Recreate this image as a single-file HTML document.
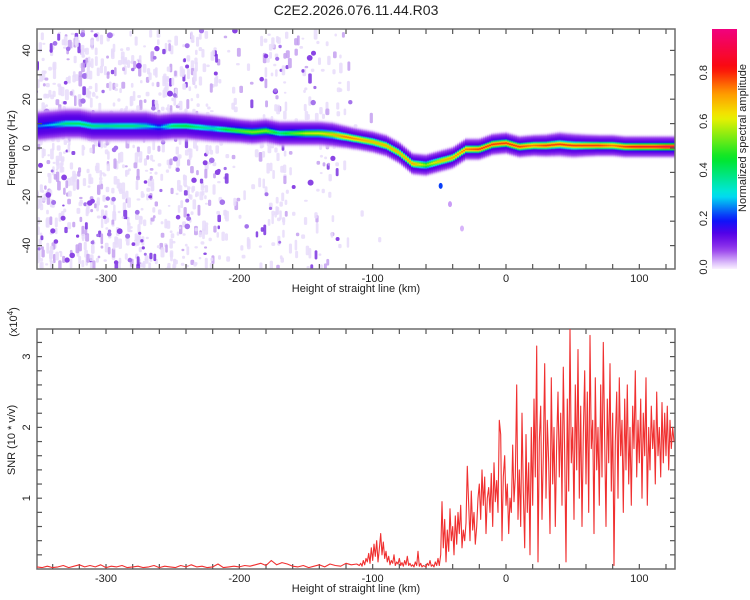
<!DOCTYPE html>
<html><head><meta charset="utf-8"><style>
body{margin:0;background:#fff;}
svg{display:block;font-family:"Liberation Sans",sans-serif;}
</style></head><body>
<svg id="chart" width="750" height="600" viewBox="0 0 750 600">
<defs id="defs"></defs>
<text x="356" y="15" font-size="14" text-anchor="middle" fill="#222">C2E2.2026.076.11.44.R03</text>
<g id="topPanel"></g>
<g id="cbar"></g>
<g id="bot"></g>
</svg>
<script>
// ---------- data ----------
const ridgeHeights=[-350,-340,-330,-320,-310,-300,-290,-280,-270,-260,-250,-240,-230,-220,-210,-200,-190,-180,-170,-160,-150,-140,-130,-120,-110,-100,-90,-80,-70,-60,-50,-40,-30,-20,-10,0,10,20,30,40,50,60,70,80,90,100,110,120,130];
const ridgeFreq=[9,9.5,10,10,9,9,9,9,9,8.5,9,9,8.5,8,7.5,7,6.5,7,6,6,6,6,5.5,4.5,3.5,2.5,1,-2,-6.5,-7,-5.5,-4,-0.5,-0.5,1.5,2,0.5,1,1,1.5,1,1,1,1,0.5,0.5,0.5,0.5,0.5];
const ridgeAmp=[0.25,0.3,0.4,0.42,0.4,0.38,0.4,0.4,0.35,0.25,0.42,0.45,0.4,0.35,0.45,0.5,0.55,0.55,0.4,0.5,0.6,0.62,0.68,0.75,0.72,0.68,0.7,0.68,0.72,0.55,0.68,0.72,0.75,0.8,0.8,0.8,0.8,0.75,0.8,0.8,0.8,0.8,0.8,0.75,0.8,0.85,0.85,0.9,0.9];
const ridgeHalo=[5.5,5.5,5.5,5.5,5.5,5.5,5.5,5.5,5.5,5,5,5,5,5,4.8,4.5,4.5,4.5,4.5,4.5,4.5,4.5,4.5,4.2,4,4,4,4,4,4,4,4,4,4,4,4,4,4,4.2,4.5,4.5,4.2,4,4,4,4,4,4,4];
const spotHeights=[-49,-42,-33];
const spotFreqs=[-15.5,-23,-33];
const spotAmps=[0.22,0.04,0.03];
const noiseHeights=[-350,-340,-330,-320,-310,-300,-290,-280,-270,-260,-250,-240,-230,-220,-210,-200,-190,-180,-170,-160,-150,-140,-130,-120,-110,-100];
const noiseDensity=[0.9,0.9,0.7,0.8,0.8,0.7,0.8,0.8,0.7,0.6,0.7,0.8,0.7,0.5,0.2,0.15,0.15,0.5,0.6,0.15,0.3,0.35,0.3,0.1,0.05,0.03];
const xTickLabels=[-300,-200,-100,0,100];
const freqTickLabels=[40,20,0,-20,-40];
const cbarTickLabels=["0.0","0.2","0.4","0.6","0.8"];
const snrTickLabels=[1,2,3];
const snrLeftStart=-352, snrLeftStep=4;
const snrLeft=[.03,.02,.04,.02,.03,.05,.02,.04,.06,.03,.05,.03,.06,.02,.04,.03,.05,.02,.03,.04,.02,.03,.05,.02,.04,.03,.02,.05,.03,.06,.03,.04,.02,.03,.07,.02,.03,.04,.03,.05,.04,.06,.08,.05,.12,.06,.09,.07,.04,.03,.05,.02,.04,.06,.03,.07,.05,.04,.08,.06,.07];
const snrRightStart=-110, snrRightStep=1;
const snrRight=[.05,.08,.04,.12,.06,.15,.10,.22,.08,.30,
.12,.35,.18,.40,.10,.28,.50,.20,.38,.15,
.25,.10,.18,.06,.12,.08,.20,.05,.10,.07,
.15,.05,.09,.04,.12,.06,.18,.05,.08,.04,
.06,.03,.10,.05,.25,.04,.08,.03,.05,.04,
.03,.08,.05,.12,.04,.06,.03,.10,.05,.15,
.05,.20,.95,.30,.70,.10,.55,.25,.85,.40,
.60,.20,.75,.35,.80,.50,.90,.30,.55,.40,
.65,1.45,.90,.40,1.10,.55,.80,.35,.60,1.00,
1.20,.70,1.40,.90,1.30,.50,1.00,1.15,.80,1.35,
.60,1.50,.95,1.25,.80,2.10,1.90,.40,1.30,1.60,
.90,1.20,.50,1.00,.80,1.75,.95,1.30,2.60,.70,
1.40,.60,2.20,1.10,.30,1.90,.80,1.50,.20,2.00,
.90,2.40,1.30,3.15,.10,1.80,2.30,.70,1.60,2.90,
1.00,2.10,1.50,.50,2.70,1.20,2.00,.60,1.80,2.50,
1.30,2.20,.90,2.85,1.60,.10,2.40,1.10,3.40,1.50,
2.00,.70,2.60,1.40,3.10,1.00,2.30,.60,1.90,2.80,
1.20,2.50,.80,3.30,1.70,2.10,.50,2.70,1.40,2.00,
.90,2.60,1.30,3.20,1.80,.60,2.40,1.50,2.90,1.10,
2.20,.05,1.80,2.50,1.00,2.70,1.60,2.10,.80,2.40,
1.40,2.60,1.20,2.00,.90,2.30,1.70,2.80,1.30,2.10,
1.50,2.40,1.00,2.20,1.60,2.70,.90,2.00,1.40,2.30,
1.70,2.10,1.20,2.50,1.60,2.00,1.30,2.35,1.50,2.20,
1.60,2.30,1.40,2.10,1.70,2.00,1.80];

// ---------- geometry ----------
const NS='http://www.w3.org/2000/svg';
const L=37,R=675,T1=29,B1=269,T2=329,B2=569;
const X=v=>506+1.3333*v;
const XV=p=>(p-506)/1.3333;
const YF=f=>148-2.44*f;
const YS=s=>569-70.8*s;
function mk(tag,attrs,parent){const e=document.createElementNS(NS,tag);for(const k in attrs)e.setAttribute(k,attrs[k]);parent.appendChild(e);return e;}
const stops=[[0,[250,240,255]],[0.03,[215,180,250]],[0.08,[150,60,235]],[0.14,[90,0,230]],[0.2,[10,20,250]],[0.3,[0,230,240]],[0.45,[0,230,40]],[0.62,[240,240,0]],[0.72,[255,150,0]],[0.82,[250,10,10]],[1,[240,0,140]]];
function cmap(v){v=Math.max(0,Math.min(1,v));for(let i=1;i<stops.length;i++){if(v<=stops[i][0]){const a=stops[i-1],b=stops[i],t=(v-a[0])/(b[0]-a[0]);const c=a[1].map((x,j)=>Math.round(x+(b[1][j]-x)*t));return `rgb(${c[0]},${c[1]},${c[2]})`;}}return 'rgb(240,0,140)';}
function interp(xs,ys,x){if(x<=xs[0])return ys[0];for(let i=1;i<xs.length;i++){if(x<=xs[i]){const t=(x-xs[i-1])/(xs[i]-xs[i-1]);return ys[i-1]+(ys[i]-ys[i-1])*t;}}return ys[ys.length-1];}
const defs=document.getElementById('defs');
const topG=document.getElementById('topPanel'),bot=document.getElementById('bot'),cb=document.getElementById('cbar');
const cp1=mk('clipPath',{id:'cp1'},defs);mk('rect',{x:L,y:T1,width:R-L,height:B1-T1},cp1);
const cp2=mk('clipPath',{id:'cp2'},defs);mk('rect',{x:L,y:T2,width:R-L,height:B2-T2},cp2);

// ---------- background speckles ----------
const sp=mk('g',{'clip-path':'url(#cp1)'},topG);


let seed=12345;const rnd=()=>{seed=(seed*1103515245+12345)%2147483648;return seed/2147483648;};
for(let i=0;i<noiseHeights.length;i++){
  const x0=X(noiseHeights[i]-5),n=Math.round(noiseDensity[i]*80);
  for(let k=0;k<n;k++){
    const x=x0+rnd()*13.3,y=T1+rnd()*(B1-T1),h=2+rnd()*9,r=rnd();
    const col=r<0.04?'#7a32e0':(r<0.25?'#c4a0f0':'#e8dcfa');
    const e=mk('rect',{x:x.toFixed(1),y:y.toFixed(1),width:(2.5+rnd()*1.5).toFixed(1),height:h.toFixed(1),fill:col,rx:1.5,opacity:0.85},sp);
    
    
  }
  const nb=Math.round(noiseDensity[i]*8);
  for(let k=0;k<nb;k++){
    const e=mk('circle',{cx:(x0+rnd()*13.3).toFixed(1),cy:(T1+rnd()*(B1-T1)).toFixed(1),r:(1.5+rnd()*1.5).toFixed(1),fill:rnd()<0.5?'#8a44e4':'#a574ec'},sp);
    
    
  }
}
// ---------- ridge ----------
const rg=mk('g',{'clip-path':'url(#cp1)'},topG);


for(let px=L;px<R;px+=2){
  const h=XV(px+1),f=interp(ridgeHeights,ridgeFreq,h),a=interp(ridgeHeights,ridgeAmp,h),hw=interp(ridgeHeights,ridgeHalo,h);
  const id='g'+px;const lg=mk('linearGradient',{id:id,x1:0,y1:0,x2:0,y2:1},defs);
  const span=hw*1.5;const N=20;
  for(let k=0;k<=N;k++){const d=-span+2*span*k/N;
    const q=d/hw;
    const v=Math.max(a*Math.exp(-d*d/(2*1.0*1.0)),0.15*Math.exp(-q*q*q*q));
    const op=v<0.015?0:Math.min(1,v/0.05);
    mk('stop',{offset:(k/N).toFixed(3),'stop-color':cmap(v),'stop-opacity':op.toFixed(2)},lg);}
  const e=mk('rect',{x:px,y:YF(f+span).toFixed(1),width:2.2,height:(2.44*2*span).toFixed(1),fill:`url(#${id})`},rg);
  
  
}
for(let i=0;i<spotHeights.length;i++){
  const e=mk('ellipse',{cx:X(spotHeights[i]),cy:YF(spotFreqs[i]),rx:2,ry:3,fill:cmap(spotAmps[i])},rg);
  
  
}
// ---------- axes helpers ----------
function frame(g,T,B,name){const e=mk('rect',{x:L,y:T,width:R-L,height:B-T,fill:'none',stroke:'#6b6b6b','stroke-width':1.5},g);}
function xTicks(g,T,B){
  for(let v=-340;v<=120;v+=20){const x=X(v);mk('line',{x1:x,y1:B,x2:x,y2:B-5,stroke:'#555','stroke-width':1.2},g);mk('line',{x1:x,y1:T,x2:x,y2:T+5,stroke:'#555','stroke-width':1.2},g);}
  xTickLabels.forEach(v=>{const e=mk('text',{x:X(v),y:B+13,'font-size':11,'text-anchor':'middle',fill:'#222'},g);e.textContent=v;});
  const e=mk('text',{x:356,y:B+23,'font-size':11,'text-anchor':'middle',fill:'#222'},g);e.textContent='Height of straight line (km)';
}
frame(topG,T1,B1,'spectrogram-frame');xTicks(topG,T1,B1);
for(let f=-50;f<=50;f+=10){const y=YF(f);if(y<T1||y>B1)continue;mk('line',{x1:L,y1:y,x2:L+5,y2:y,stroke:'#555','stroke-width':1.2},topG);mk('line',{x1:R,y1:y,x2:R-5,y2:y,stroke:'#555','stroke-width':1.2},topG);}
freqTickLabels.forEach(f=>{const y=YF(f);const e=mk('text',{x:0,y:0,'font-size':11,'text-anchor':'middle',fill:'#222',transform:`translate(30,${y}) rotate(-90)`},topG);e.textContent=f;});
{const e=mk('text',{x:0,y:0,'font-size':11,'text-anchor':'middle',fill:'#222',transform:'translate(15,148) rotate(-90)'},topG);e.textContent='Frequency (Hz)';}
// ---------- colorbar ----------
{const lg=mk('linearGradient',{id:'cbg',x1:0,y1:1,x2:0,y2:0},defs);
 for(let k=0;k<=40;k++){const v=k/40*0.98;mk('stop',{offset:k/40,'stop-color':cmap(v)},lg);}
 const e=mk('rect',{x:712,y:29,width:25,height:240,fill:'url(#cbg)'},cb);
 cbarTickLabels.forEach((t,i)=>{const y=267-i*0.2/0.98*238;const te=mk('text',{x:0,y:0,'font-size':11,'text-anchor':'middle',fill:'#222',transform:`translate(707,${y}) rotate(-90)`},cb);te.textContent=t;});
 const te=mk('text',{x:0,y:0,'font-size':11,'text-anchor':'middle',fill:'#222',transform:'translate(746,138) rotate(-90)'},cb);te.textContent='Normalized spectral amplitude';
}
// ---------- SNR ----------
frame(bot,T2,B2,'snr-frame');xTicks(bot,T2,B2);
for(let s=0.2;s<3.4;s+=0.2){const y=YS(s);mk('line',{x1:L,y1:y,x2:L+5,y2:y,stroke:'#555','stroke-width':1.2},bot);mk('line',{x1:R,y1:y,x2:R-5,y2:y,stroke:'#555','stroke-width':1.2},bot);}
snrTickLabels.forEach(s=>{const y=YS(s);const e=mk('text',{x:0,y:0,'font-size':11,'text-anchor':'middle',fill:'#222',transform:`translate(30,${y}) rotate(-90)`},bot);e.textContent=s;});
{const e=mk('text',{x:0,y:0,'font-size':11,'text-anchor':'middle',fill:'#222',transform:'translate(15,440) rotate(-90)'},bot);e.textContent='SNR (10 * v/v)';}
{const e=mk('text',{x:0,y:0,'font-size':11,'text-anchor':'middle',fill:'#222',transform:'translate(17,322) rotate(-90)'},bot);e.innerHTML='(x10<tspan font-size="8" dy="-4">4</tspan><tspan dy="4">)</tspan>';}
{let pts=[];snrLeft.forEach((s,i)=>pts.push(X(snrLeftStart+i*snrLeftStep).toFixed(1)+','+YS(s).toFixed(1)));
 snrRight.forEach((s,i)=>pts.push(X(snrRightStart+i*snrRightStep).toFixed(1)+','+YS(s).toFixed(1)));
 const e=mk('polyline',{points:pts.join(' '),fill:'none',stroke:'#f03030','stroke-width':1.1,'stroke-linejoin':'round','clip-path':'url(#cp2)'},bot);
 }
</script>
</body></html>
